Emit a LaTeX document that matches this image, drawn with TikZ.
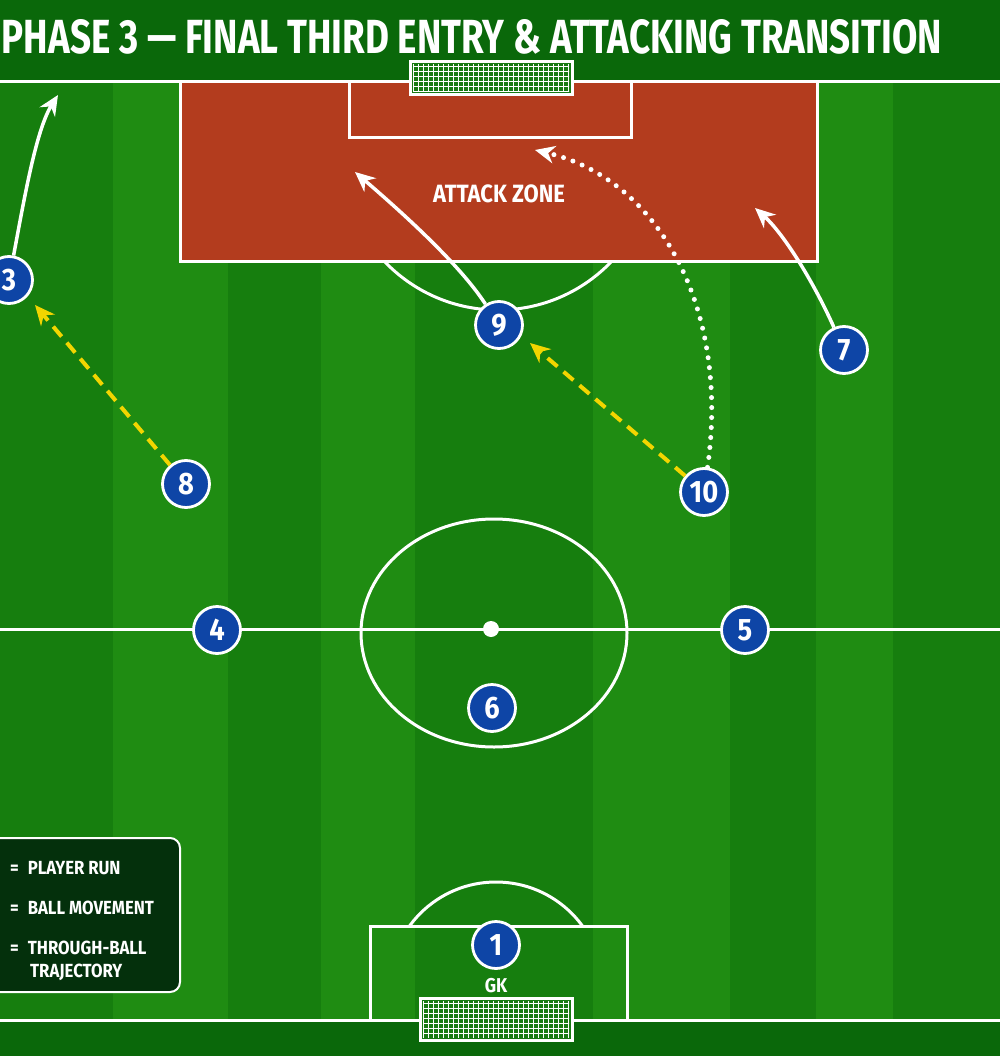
\documentclass[tikz,border=0pt]{standalone}
\usepackage{fontspec}
\usepackage{graphicx}
\newfontfamily\cond{Fira Sans}[FakeStretch=0.88]
\usetikzlibrary{arrows.meta}
\definecolor{header}{HTML}{0A680A}
\definecolor{pitchA}{HTML}{167E0E}
\definecolor{pitchB}{HTML}{1F8C12}
\definecolor{zone}{HTML}{B33C1E}
\definecolor{pblue}{HTML}{0E45A6}
\definecolor{ballyel}{HTML}{F2D500}
\definecolor{legbg}{HTML}{04300C}
\definecolor{netbg}{HTML}{187A12}
\tikzset{
  pline/.style={draw=white, line width=3pt},
  player/.style={circle, fill=pblue, draw=white, line width=2.8pt, minimum size=47pt, inner sep=0pt, text=white, font=\cond\bfseries\fontsize{31}{31}\selectfont},
  run/.style={draw=white, line width=3.5pt, -{Stealth[length=20pt,width=18pt]}},
  ballpass/.style={draw=ballyel, line width=4pt, dash pattern=on 13pt off 8pt, -{Stealth[length=20pt,width=18pt,fill=ballyel]}},
  through/.style={draw=white, line width=5pt, line cap=round, dash pattern=on 0pt off 10pt, -{Stealth[length=20pt,width=18pt,fill=white,line width=0pt]}},
  legtext/.style={anchor=west, text=white, inner sep=0pt, font=\cond\bfseries\fontsize{19}{22}\selectfont},
  goalbox/.style={fill=netbg, draw=white, line width=3pt},
}
\begin{document}
\begin{tikzpicture}[x=1pt,y=-1pt]
\useasboundingbox (0,0) rectangle (1000,1056);
\clip (0,0) rectangle (1000,1056);
% pitch stripes
\fill[pitchB] (0,82) rectangle (1000,1020);
\foreach \a/\b in {0/113, 228/321, 415/593, 730/816, 893/1000}
  \fill[pitchA] (\a,82) rectangle (\b,1020);
% header / footer bands
\fill[header] (0,0) rectangle (1000,82);
\fill[header] (0,1020) rectangle (1000,1056);
% attack zone
\fill[zone] (180,82) rectangle (817,262);
\draw[pline] (180,82) rectangle (817,262);
\draw[pline] (349,82) rectangle (631,138);
% penalty arc
\begin{scope}
  \clip (0,263) rectangle (1000,400);
  \draw[pline] (498,153) circle[radius=157pt];
\end{scope}
% boundary lines
\draw[pline] (0,82) -- (1000,82);
\draw[pline] (0,1020) -- (1000,1020);
\draw[pline] (0,629) -- (1000,629);
\draw[pline] (494,633) ellipse[x radius=133pt, y radius=114pt];
\fill[white] (491,629) circle[radius=8pt];
% bottom box and arc
\draw[pline] (370,1020) -- (370,926) -- (627,926) -- (627,1020);
\begin{scope}
  \clip (0,0) rectangle (1000,925);
  \draw[pline] (496,989) circle[radius=107pt];
\end{scope}
% goals
\fill[goalbox] (410,62) rectangle (572,95);
\begin{scope}
  \clip (413,65) rectangle (569,92);
  \foreach \x in {413,418,...,570} \draw[white, line width=0.8pt] (\x,62) -- (\x,95);
  \foreach \y in {66,71,...,92} \draw[white, line width=0.8pt] (410,\y) -- (572,\y);
\end{scope}
\draw[white, line width=3pt] (410,62) rectangle (572,95);
\fill[goalbox] (420,998) rectangle (572,1040);
\begin{scope}
  \clip (423,1001) rectangle (569,1037);
  \foreach \x in {423,428,...,570} \draw[white, line width=0.8pt] (\x,998) -- (\x,1040);
  \foreach \y in {1003,1008,...,1037} \draw[white, line width=0.8pt] (420,\y) -- (572,\y);
\end{scope}
\draw[white, line width=3pt] (420,998) rectangle (572,1040);
% title
\node[text=white, inner sep=0pt] (title) at (472,37) {\resizebox{940pt}{34pt}{\cond\bfseries PHASE 3 — FINAL THIRD ENTRY \& ATTACKING TRANSITION}};
% zone label
\node[text=white, font=\cond\bfseries\fontsize{25}{25}\selectfont] (zonelbl) at (499,194) {ATTACK ZONE};
% players
\node[player] (p3) at (9,280) {3};
\node[player] (p9) at (499,325) {9};
\node[player] (p7) at (844,350) {7};
\node[player] (p8) at (186,484) {8};
\node[player] (p10) at (704,492) {10};
\node[player] (p4) at (217,630) {4};
\node[player] (p5) at (745,630) {5};
\node[player] (p6) at (492,708) {6};
\node[player] (p1) at (496,945) {1};
\node[text=white, font=\cond\bfseries\fontsize{20}{20}\selectfont] (gk) at (496,986) {GK};
% target coordinates
\coordinate (t3) at (58,95);
\coordinate (t9) at (355,172);
\coordinate (t7) at (755,208);
\coordinate (t10) at (535,150);
\coordinate (b8) at (35,305);
\coordinate (b10) at (530,343);
% runs
\draw[run] (p3) .. controls (24,200) and (36,130) .. (t3);
\draw[run] (p9) .. controls (460,265) and (405,215) .. (t9);
\draw[run] (p7) .. controls (815,285) and (785,235) .. (t7);
\draw[through] (p10) .. controls (730,310) and (660,180) .. (t10);
\draw[ballpass] (p8) -- (b8);
\draw[ballpass] (p10) -- (b10);
% legend
\draw[fill=legbg, draw=white, line width=2pt, rounded corners=10pt] (-20,838) rectangle (180,992);
\node[legtext] (l1) at (10,868) {=\hspace{9pt}PLAYER RUN};
\node[legtext] (l2) at (10,908) {=\hspace{9pt}BALL MOVEMENT};
\node[legtext] (l3) at (10,948) {=\hspace{9pt}THROUGH-BALL};
\node[legtext] (l4) at (30,972) {TRAJECTORY};
\end{tikzpicture}
\end{document}
